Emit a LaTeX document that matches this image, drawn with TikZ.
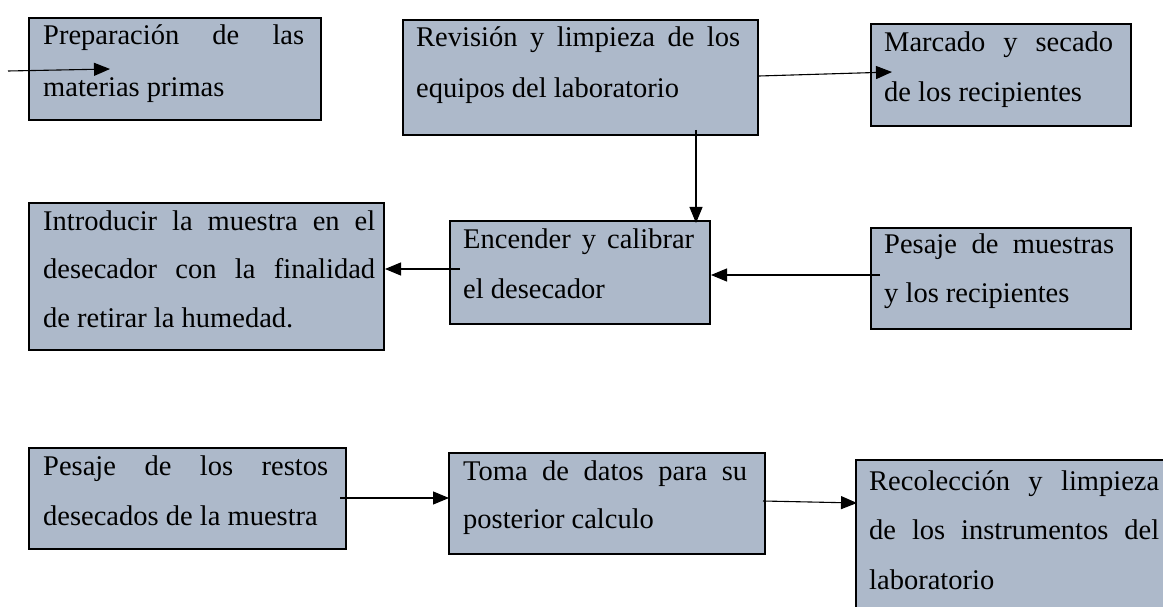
\documentclass[tikz,border=0pt]{standalone}
\usepackage{fontspec}
\setmainfont{Liberation Serif}
\usetikzlibrary{arrows.meta,calc}
\definecolor{boxfill}{HTML}{ADB9CA}
\newcommand{\jline}[2]{\makebox[#1pt][s]{#2}}
\newcommand{\btext}[3]{\parbox[t]{#1pt}{\fontsize{28.5}{#2}\selectfont #3}}
\begin{document}
\begin{tikzpicture}[x=1pt,y=-1pt,
  procbox/.style={draw=black, line width=2pt, fill=boxfill, inner sep=0pt, anchor=north west},
  txt/.style={inner sep=0pt, anchor=base west, text=black},
  arr/.style={draw=black, line width=1.1pt, -{Triangle[length=16pt,width=13pt]}}]
\clip (0,0) rectangle (1163,607);
\fill[white] (0,0) rectangle (1163,607);

% boxes
\node[procbox, minimum width=292pt, minimum height=102pt] (b1) at (28,17) {};
\node[procbox, minimum width=355pt, minimum height=115pt] (b2) at (402,19) {};
\node[procbox, minimum width=260pt, minimum height=102pt] (b3) at (870,23) {};
\node[procbox, minimum width=355pt, minimum height=147pt] (b4) at (28,202) {};
\node[procbox, minimum width=260pt, minimum height=103pt] (b5) at (449,220) {};
\node[procbox, minimum width=260pt, minimum height=101pt] (b6) at (870,227) {};
\node[procbox, minimum width=317pt, minimum height=101pt] (b7) at (28,447) {};
\node[procbox, minimum width=316pt, minimum height=101pt] (b8) at (448,452) {};
\node[procbox, minimum width=330pt, minimum height=190pt] (b9) at (855,459) {};

% texts
\node[txt] (t1) at (43,45) {\btext{261}{52}{\jline{261}{Preparación de las}\\materias primas}};
\node[txt] (t2) at (416,47) {\btext{324}{51}{\jline{324}{Revisión y limpieza de los}\\equipos del laboratorio}};
\node[txt] (t3) at (884,52) {\btext{229}{50}{\jline{229}{Marcado y secado}\\de los recipientes}};
\node[txt] (t4) at (43,230) {\btext{332}{48.5}{\jline{332}{Introducir la muestra en el}\\\jline{332}{desecador con la finalidad}\\de retirar la humedad.}};
\node[txt] (t5) at (463,248) {\btext{231}{50}{\jline{231}{Encender y calibrar}\\el desecador}};
\node[txt] (t6) at (884,253) {\btext{230}{50}{\jline{230}{Pesaje de muestras}\\y los recipientes}};
\node[txt] (t7) at (43,475) {\btext{290}{50}{\jline{285}{Pesaje de los restos}\\desecados de la muestra}};
\node[txt] (t8) at (463,480) {\btext{284}{48}{\jline{284}{Toma de datos para su}\\posterior calculo}};
\node[txt] (t9) at (869,490) {\btext{290}{49.5}{\jline{290}{Recolección y limpieza}\\\jline{290}{de los instrumentos del}\\laboratorio}};

% connectors
\coordinate (s0) at (8,71);
\draw[arr] (s0) -- ($(b1.north west)+(82,52)$);
\draw[arr] ($(b2.north east)+(0,57)$) -- ($(b3.north west)+(22,49)$);
\draw[arr] ($(b2.south west)+(294,-6)$) -- ($(b5.north west)+(247,3)$);
\draw[arr] ($(b5.north west)+(11,49)$) -- ($(b4.north east)+(0,67)$);
\draw[arr] ($(b6.north west)+(10,48)$) -- ($(b5.north east)+(0,55)$);
\draw[arr] ($(b7.north east)+(-7,51)$) -- ($(b8.north west)+(1,46)$);
\draw[arr] ($(b8.north east)+(-3,49)$) -- ($(b9.north west)+(2,44)$);
\end{tikzpicture}
\end{document}
